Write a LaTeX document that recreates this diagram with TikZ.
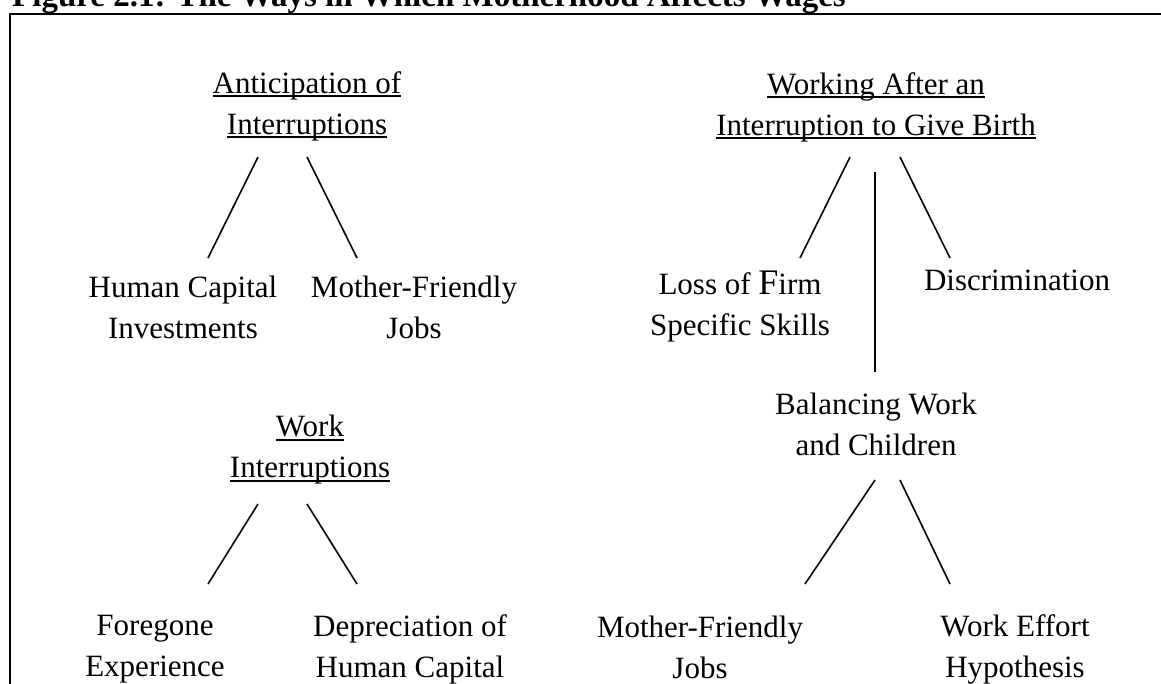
\documentclass[tikz,border=0pt]{standalone}
\usepackage{fontspec}
\setmainfont{Liberation Serif}
\newcommand\myul[1]{\setbox0\hbox{#1}\rlap{\rule[-4pt]{\wd0}{1.8pt}}\box0}
\begin{document}
\begin{tikzpicture}[x=1pt,y=-1pt,
  lbl/.style={align=center,font=\fontsize{31}{41}\selectfont,inner sep=0pt},
  conn/.style={line width=1.6pt}]
\useasboundingbox (0,0) rectangle (1161,683);
\clip (0,0) rectangle (1161,683);
\node[anchor=base west,inner sep=0pt,font=\bfseries\fontsize{33}{36}\selectfont] (title) at (12,6) {Figure 2.1: The Ways in Which Motherhood Affects Wages};
\draw[line width=2pt] (10,700) -- (10,14) -- (1170,14);
% left column
\node[lbl] (A1) at (307,106) {\myul{Anticipation of}\\\myul{Interruptions}};
\node[lbl] (H1) at (183,307) {Human Capital\\Investments};
\node[lbl] (M1) at (414,307) {Mother-Friendly\\Jobs};
\node[lbl] (W1) at (310,450) {\myul{Work}\\\myul{Interruptions}};
\node[lbl] (F1) at (155,649) {Foregone\\Experience};
\node[lbl] (D1) at (410,649) {Depreciation of\\Human Capital};
% right column
\node[lbl] (R) at (876,107) {\myul{Working After an}\\\myul{Interruption to Give Birth}};
\node[lbl] (L) at (740,307) {Loss of {\fontsize{36}{41}\selectfont F}irm\\Specific Skills};
\node[lbl] (Dis) at (1017,280) {Discrimination};
\node[lbl] (B) at (876,424) {Balancing Work\\and Children};
\node[lbl] (M2) at (700,647) {Mother-Friendly\\Jobs};
\node[lbl] (E) at (1015,649) {Work Effort\\Hypothesis};
% connector end points
\coordinate (a1l) at (258,157); \coordinate (h1t) at (208,258);
\coordinate (a1r) at (307,157); \coordinate (m1t) at (357,258);
\coordinate (w1l) at (258,504); \coordinate (f1t) at (208,584);
\coordinate (w1r) at (307,504); \coordinate (d1t) at (357,584);
\coordinate (rl) at (850,157); \coordinate (lt) at (800,258);
\coordinate (rm) at (875,172); \coordinate (bt) at (875,372);
\coordinate (rr) at (900,157); \coordinate (dist) at (950,258);
\coordinate (bl) at (875,480); \coordinate (m2t) at (805,584);
\coordinate (br) at (900,480); \coordinate (et) at (950,584);
\draw[conn] (a1l) -- (h1t);
\draw[conn] (a1r) -- (m1t);
\draw[conn] (w1l) -- (f1t);
\draw[conn] (w1r) -- (d1t);
\draw[conn] (rl) -- (lt);
\draw[conn] (rm) -- (bt);
\draw[conn] (rr) -- (dist);
\draw[conn] (bl) -- (m2t);
\draw[conn] (br) -- (et);
\end{tikzpicture}
\end{document}
